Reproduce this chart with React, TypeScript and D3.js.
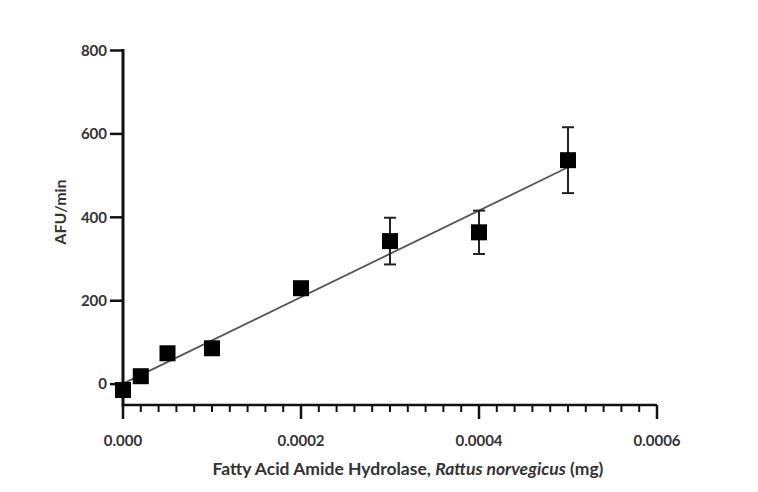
import { useEffect, useRef } from "react";
import * as d3 from "d3";

// enzyme amount (mg) vs rate (AFU/min)
const enzymeMg = [0, 0.00002, 0.00005, 0.0001, 0.0002, 0.0003, 0.0004, 0.0005];
const afuPerMin = [-14, 19, 74, 86, 230, 343, 364, 537];
const afuError = [4, 3, 8, 4, 5, 56, 52, 79];

const xTicks = [0, 0.0002, 0.0004, 0.0006];
const xTickLabels = ["0.000", "0.0002", "0.0004", "0.0006"];
const yTicks = [0, 200, 400, 600, 800];

const W = 758;
const H = 492;

function drawChart(svgEl: SVGSVGElement) {
  const svg = d3.select(svgEl);
  svg.selectAll("*").remove();

  const left = 123;
  const right = 657;
  const top = 50.5;
  const bottom = 405;
  const font = "Lato, 'Open Sans', sans-serif";

  const x = d3.scaleLinear().domain([0, 0.0006]).range([left, right]);
  const y = d3.scaleLinear().domain([-50, 800]).range([bottom, top]);

  // x axis: line + major and minor ticks
  const minor = d3.range(0, 31).map((i) => i * 0.00002);
  const gx = svg.append("g");
  gx.append("line")
    .attr("x1", x(0))
    .attr("x2", x(0.0006))
    .attr("y1", bottom)
    .attr("y2", bottom)
    .attr("stroke", "#111")
    .attr("stroke-width", 2.5);
  gx.selectAll("line.tick")
    .data(minor)
    .join("line")
    .attr("class", "tick")
    .attr("x1", (d) => x(d))
    .attr("x2", (d) => x(d))
    .attr("y1", bottom)
    .attr("y2", (d, i) => (i % 10 === 0 ? bottom + 14 : bottom + 7))
    .attr("stroke", "#111")
    .attr("stroke-width", (d, i) => (i % 10 === 0 ? 2.5 : 2));
  gx.selectAll("text")
    .data(xTicks)
    .join("text")
    .attr("x", (d) => x(d))
    .attr("y", bottom + 41)
    .attr("text-anchor", "middle")
    .attr("font-family", font)
    .attr("font-size", 15)
    .attr("font-weight", 700)
    .attr("fill", "#333")
    .text((d, i) => xTickLabels[i]);

  // y axis
  const gy = svg.append("g");
  gy.append("line")
    .attr("x1", left)
    .attr("x2", left)
    .attr("y1", y(800) - 1.5)
    .attr("y2", bottom + 1)
    .attr("stroke", "#111")
    .attr("stroke-width", 3);
  gy.selectAll("line.tick")
    .data(yTicks)
    .join("line")
    .attr("class", "tick")
    .attr("x1", left - 13)
    .attr("x2", left)
    .attr("y1", (d) => y(d))
    .attr("y2", (d) => y(d))
    .attr("stroke", "#111")
    .attr("stroke-width", 2.5);
  gy.selectAll("text")
    .data(yTicks)
    .join("text")
    .attr("x", left - 16)
    .attr("y", (d) => y(d))
    .attr("dy", "0.35em")
    .attr("text-anchor", "end")
    .attr("font-family", font)
    .attr("font-size", 15)
    .attr("font-weight", 700)
    .attr("fill", "#333")
    .text((d) => d);

  // linear fit
  const mx = d3.mean(enzymeMg)!;
  const my = d3.mean(afuPerMin)!;
  const sxy = d3.sum(enzymeMg, (v, i) => (v - mx) * (afuPerMin[i] - my));
  const sxx = d3.sum(enzymeMg, (v) => (v - mx) * (v - mx));
  const slope = sxy / sxx;
  const intercept = my - slope * mx;
  const ext = d3.extent(enzymeMg) as [number, number];
  svg.append("path")
    .attr(
      "d",
      d3.line<number>()
        .x((d) => x(d))
        .y((d) => y(intercept + slope * d))(ext)!,
    )
    .attr("fill", "none")
    .attr("stroke", "#555")
    .attr("stroke-width", 1.8);

  // error bars
  const eb = svg.append("g").attr("stroke", "#222").attr("stroke-width", 2);
  enzymeMg.forEach((d, i) => {
    const cx = x(d);
    const y1 = y(afuPerMin[i] + afuError[i]);
    const y2 = y(afuPerMin[i] - afuError[i]);
    eb.append("line").attr("x1", cx).attr("x2", cx).attr("y1", y1).attr("y2", y2);
    eb.append("line").attr("x1", cx - 6).attr("x2", cx + 6).attr("y1", y1).attr("y2", y1);
    eb.append("line").attr("x1", cx - 6).attr("x2", cx + 6).attr("y1", y2).attr("y2", y2);
  });

  // markers
  const s = 16;
  svg.append("g")
    .selectAll("rect")
    .data(enzymeMg)
    .join("rect")
    .attr("x", (d) => x(d) - s / 2)
    .attr("y", (d, i) => y(afuPerMin[i]) - s / 2)
    .attr("width", s)
    .attr("height", s)
    .attr("fill", "#000");

  // axis titles
  svg.append("text")
    .attr("transform", `translate(66,212) rotate(-90)`)
    .attr("text-anchor", "middle")
    .attr("font-family", font)
    .attr("font-size", 16)
    .attr("font-weight", 700)
    .attr("fill", "#333")
    .text("AFU/min");

  const xt = svg.append("text")
    .attr("x", 408)
    .attr("y", 475)
    .attr("text-anchor", "middle")
    .attr("font-family", font)
    .attr("font-size", 17.5)
    .attr("font-weight", 700)
    .attr("fill", "#333");
  xt.append("tspan").text("Fatty Acid Amide Hydrolase, ");
  xt.append("tspan").attr("font-style", "italic").text("Rattus norvegicus");
  xt.append("tspan").text(" (mg)");
}

export default function App() {
  const ref = useRef<SVGSVGElement>(null);
  useEffect(() => {
    if (ref.current) drawChart(ref.current);
  }, []);
  return (
    <svg
      ref={ref}
      width={W}
      height={H}
      style={{ position: "absolute", left: 0, top: 0, background: "#fff" }}
    />
  );
}
